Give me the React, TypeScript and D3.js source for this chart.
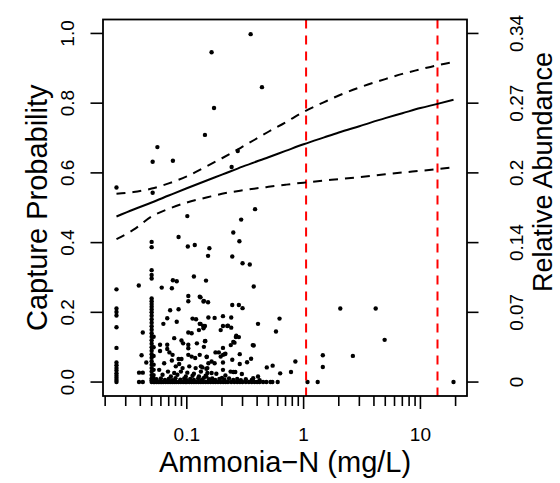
import React from "react";
import * as d3 from "d3";

// ---- fitted curve and confidence band ----
const curveX = [0.025, 0.035, 0.05, 0.07, 0.1, 0.15, 0.2, 0.3, 0.5, 0.7, 1, 1.5, 2, 3, 5, 7, 10, 14, 19.2];
const fitP = [0.475, 0.495, 0.515, 0.535, 0.556, 0.579, 0.595, 0.618, 0.645, 0.663, 0.682, 0.702, 0.716, 0.734, 0.757, 0.771, 0.786, 0.798, 0.81];
const upperP = [0.54, 0.545, 0.555, 0.57, 0.59, 0.62, 0.642, 0.675, 0.718, 0.745, 0.775, 0.803, 0.822, 0.845, 0.869, 0.884, 0.897, 0.909, 0.918];
const lowerP = [0.41, 0.437, 0.475, 0.497, 0.515, 0.53, 0.54, 0.55, 0.56, 0.566, 0.572, 0.578, 0.582, 0.588, 0.596, 0.601, 0.606, 0.611, 0.616];

// ---- threshold lines ----
const thresholds = [1.05, 14];

// ---- axis ticks ----
const xMajorTicks = [0.1, 1, 10];
const xMajorLabels = ["0.1", "1", "10"];
const xMinorTicks = [0.02, 0.03, 0.04, 0.05, 0.06, 0.07, 0.08, 0.09, 0.2, 0.3, 0.4, 0.5, 0.6, 0.7, 0.8, 0.9, 2, 3, 4, 5, 6, 7, 8, 9, 20];
const yTicks = [0, 0.2, 0.4, 0.6, 0.8, 1.0];
const yLabels = ["0.0", "0.2", "0.4", "0.6", "0.8", "1.0"];
const rightLabels = ["0", "0.07", "0.14", "0.2", "0.27", "0.34"];

// ---- observations: [ammonia, capture probability] ----
const highPoints: [number, number][] = [
  [0.025, 0.558], [0.051, 0.543], [0.051, 0.632], [0.056, 0.674], [0.076, 0.635], [0.143, 0.709],
  [0.163, 0.946], [0.171, 0.786], [0.242, 0.617], [0.273, 0.663], [0.352, 0.998], [0.44, 0.846],
  [0.384, 0.496], [0.101, 0.476], [0.085, 0.416], [0.102, 0.389], [0.117, 0.393], [0.156, 0.384],
  [0.152, 0.362], [0.25, 0.429], [0.292, 0.466], [0.282, 0.404], [0.245, 0.36], [0.3, 0.341],
  [0.346, 0.337], [0.374, 0.274], [0.0388, 0.277], [0.061, 0.271], [0.0745, 0.269], [0.076, 0.292],
  [0.082, 0.289], [0.115, 0.303], [0.146, 0.291],
];
const rightPoints: [number, number][] = [
  [0.374, 0.105], [0.407, 0.167], [0.622, 0.182], [0.58, 0.145], [0.484, 0.042], [0.543, 0.047],
  [0.63, 0.025], [0.78, 0.029], [0.85, 0.059], [1.08, 0], [1.32, 0], [1.46, 0.077], [1.46, 0.043],
  [2.06, 0.211], [2.64, 0.075], [4.14, 0.211], [4.94, 0.121], [19.2, 0],
];
const col025 = [0.266, 0.211, 0.201, 0.191, 0.157, 0.098, 0.056, 0.048, 0.04, 0.033, 0.025, 0.018, 0.012, 0.006, 0];
const col04: [number, number][] = [
  [0.041, 0.077], [0.042, 0.142], [0.045, 0.056], [0.039, 0.027], [0.042, 0.027], [0.039, 0], [0.042, 0],
];
const col05 = [0.402, 0.387, 0.321, 0.307, 0.297, 0.24, 0.232, 0.224, 0.216, 0.208, 0.2, 0.19, 0.18, 0.17, 0.16,
  0.15, 0.14, 0.13, 0.12, 0.11, 0.1, 0.09, 0.08, 0.07, 0.06, 0.05, 0.04, 0.03, 0.02, 0.01, 0.005, 0];
const col052 = [0.13, 0.1, 0.075, 0.05, 0.035, 0.02, 0.01, 0];
const midPoints: [number, number][] = [
  [0.103, 0.247], [0.103, 0.232], [0.129, 0.245], [0.14, 0.233], [0.131, 0.243], [0.139, 0.231], [0.152, 0.229],
  [0.072, 0.206], [0.085, 0.209], [0.068, 0.183], [0.063, 0.167], [0.082, 0.173], [0.112, 0.182], [0.12, 0.18],
  [0.129, 0.167], [0.138, 0.161], [0.103, 0.142], [0.11, 0.14], [0.078, 0.126], [0.09, 0.119], [0.093, 0.111],
  [0.103, 0.107], [0.103, 0.097], [0.122, 0.111], [0.245, 0.221], [0.279, 0.221], [0.3, 0.212], [0.153, 0.185],
  [0.173, 0.184], [0.204, 0.189], [0.24, 0.185], [0.131, 0.167], [0.143, 0.161], [0.139, 0.154], [0.204, 0.161],
  [0.222, 0.161], [0.24, 0.156], [0.143, 0.117], [0.14, 0.101], [0.265, 0.133], [0.279, 0.129], [0.25, 0.115],
  [0.238, 0.106], [0.367, 0.106], [0.204, 0.098], [0.148, 0.072], [0.176, 0.085], [0.214, 0.081], [0.204, 0.078],
  [0.284, 0.08], [0.245, 0.064], [0.355, 0.067], [0.328, 0.057], [0.284, 0.052], [0.153, 0.054], [0.163, 0.059],
  [0.173, 0.054], [0.204, 0.056], [0.136, 0.042], [0.147, 0.038], [0.204, 0.035], [0.25, 0.029], [0.26, 0.029],
  [0.296, 0.023], [0.179, 0.024], [0.147, 0.016], [0.163, 0.026], [0.214, 0.019], [0.37, 0.011], [0.407, 0.016],
  [0.195, 0.149], [0.127, 0.149], [0.144, 0.118], [0.188, 0.085], [0.195, 0.073], [0.211, 0.08], [0.237, 0.03],
  [0.256, 0.113], [0.263, 0.129], [0.225, 0.162],
];
const densePoints: [number, number][] = [
  [0.059, 0.107], [0.068, 0.107], [0.068, 0.095], [0.059, 0.089], [0.064, 0.054], [0.071, 0.085], [0.0755, 0.078],
  [0.0745, 0.062], [0.085, 0.066], [0.09, 0.066], [0.086, 0.052], [0.103, 0.078], [0.11, 0.073], [0.118, 0.069],
  [0.129, 0.078], [0.148, 0.073], [0.0805, 0.045], [0.092, 0.04], [0.105, 0.045], [0.119, 0.04], [0.132, 0.045],
  [0.15, 0.04], [0.058, 0.035], [0.069, 0.03], [0.078, 0.026], [0.089, 0.03], [0.101, 0.027], [0.115, 0.024],
  [0.132, 0.03], [0.15, 0.026], [0.062, 0.021], [0.073, 0.016], [0.083, 0.021], [0.098, 0.016], [0.112, 0.018],
  [0.127, 0.016], [0.145, 0.018], [0.055, 0.008], [0.06, 0.01], [0.065, 0.006], [0.07, 0.009], [0.075, 0.005],
  [0.08, 0.011], [0.088, 0.007], [0.095, 0.01], [0.1, 0.005], [0.107, 0.009], [0.115, 0.006], [0.125, 0.01],
  [0.135, 0.007], [0.14, 0.012], [0.155, 0.008], [0.165, 0.01], [0.175, 0.006], [0.19, 0.009], [0.2, 0.012],
  [0.21, 0.007], [0.23, 0.01], [0.25, 0.006], [0.27, 0.009], [0.29, 0.005], [0.32, 0.008], [0.36, 0.006], [0.42, 0.005],
];
const zeroRowX = [0.053, 0.055, 0.057, 0.059, 0.061, 0.063, 0.066, 0.069, 0.072, 0.075, 0.078, 0.081, 0.085, 0.089,
  0.093, 0.097, 0.1, 0.105, 0.11, 0.115, 0.12, 0.126, 0.132, 0.138, 0.145, 0.152, 0.16, 0.168, 0.176, 0.185, 0.195,
  0.205, 0.215, 0.225, 0.24, 0.255, 0.27, 0.285, 0.3, 0.32, 0.34, 0.36, 0.38, 0.4, 0.42, 0.45, 0.48, 0.52, 0.54, 0.6];

const W = 560;
const H = 483;
const L = 103, R = 467, T = 19.5, B = 396;
const FONT = "'Liberation Sans', Arial, Helvetica, sans-serif";

export default function App() {
  const lxMin = Math.log10(d3.min(curveX) as number);
  const lxMax = Math.log10(d3.max(curveX) as number);
  const ext = (lxMax - lxMin) * 0.04;
  const x = d3.scaleLog().domain([Math.pow(10, lxMin - ext), Math.pow(10, lxMax + ext)]).range([L, R]);
  const y = d3.scaleLinear().domain([-0.04, 1.04]).range([B, T]);

  const pts: [number, number][] = [
    ...highPoints,
    ...rightPoints,
    ...col025.map((v) => [0.025, v] as [number, number]),
    ...col04,
    ...col05.map((v) => [0.05, v] as [number, number]),
    ...col052.map((v) => [0.052, v] as [number, number]),
    ...midPoints,
    ...densePoints,
    ...zeroRowX.map((v) => [v, 0] as [number, number]),
  ];

  const line = d3
    .line<[number, number]>()
    .x((d) => x(d[0]))
    .y((d) => y(d[1]))
    .curve(d3.curveMonotoneX);
  const fitPath = line(curveX.map((v, i) => [v, fitP[i]]));
  const upPath = line(curveX.map((v, i) => [v, upperP[i]]));
  const loPath = line(curveX.map((v, i) => [v, lowerP[i]]));

  return (
    <svg width={W} height={H} style={{ position: "absolute", left: 0, top: 0, background: "#fff" }} fontFamily={FONT}>
      <rect x={0} y={0} width={W} height={H} fill="#fff" />
      {pts.map((p, i) => (
        <circle key={i} cx={x(p[0])} cy={y(p[1])} r={2.2} fill="#000" />
      ))}
      {thresholds.map((t, i) => (
        <line key={i} x1={x(t)} x2={x(t)} y1={T} y2={B} stroke="#ff0000" strokeWidth={2} strokeDasharray="9,7" />
      ))}
      <path d={fitPath || ""} fill="none" stroke="#000" strokeWidth={2} />
      <path d={upPath || ""} fill="none" stroke="#000" strokeWidth={2} strokeDasharray="9,7" />
      <path d={loPath || ""} fill="none" stroke="#000" strokeWidth={2} strokeDasharray="9,7" />
      <rect x={L} y={T} width={R - L} height={B - T} fill="none" stroke="#000" strokeWidth={1.8} />
      {xMajorTicks.map((t, i) => (
        <g key={"xm" + i}>
          <line x1={x(t)} x2={x(t)} y1={B} y2={B + 13} stroke="#000" strokeWidth={1.6} />
          <text x={x(t)} y={441} fontSize={19} textAnchor="middle">{xMajorLabels[i]}</text>
        </g>
      ))}
      {xMinorTicks.map((t, i) => (
        <line key={"xn" + i} x1={x(t)} x2={x(t)} y1={B} y2={B + 10} stroke="#000" strokeWidth={1.6} />
      ))}
      <text x={(L + R) / 2} y={472} fontSize={29} textAnchor="middle">Ammonia−N (mg/L)</text>
      {yTicks.map((t, i) => (
        <g key={"yl" + i}>
          <line x1={L - 12.5} x2={L} y1={y(t)} y2={y(t)} stroke="#000" strokeWidth={1.6} />
          <text transform={`translate(74,${y(t)}) rotate(-90)`} fontSize={19} textAnchor="middle">{yLabels[i]}</text>
        </g>
      ))}
      <text transform={`translate(47,${(T + B) / 2}) rotate(-90)`} fontSize={29} textAnchor="middle">Capture Probability</text>
      {yTicks.map((t, i) => (
        <g key={"yr" + i}>
          <line x1={R} x2={R + 11.5} y1={y(t)} y2={y(t)} stroke="#000" strokeWidth={1.6} />
          <text transform={`translate(523,${y(t)}) rotate(-90)`} fontSize={19} textAnchor="middle">{rightLabels[i]}</text>
        </g>
      ))}
      <text transform={`translate(552,172) rotate(-90)`} fontSize={27} textAnchor="middle">Relative Abundance</text>
    </svg>
  );
}
